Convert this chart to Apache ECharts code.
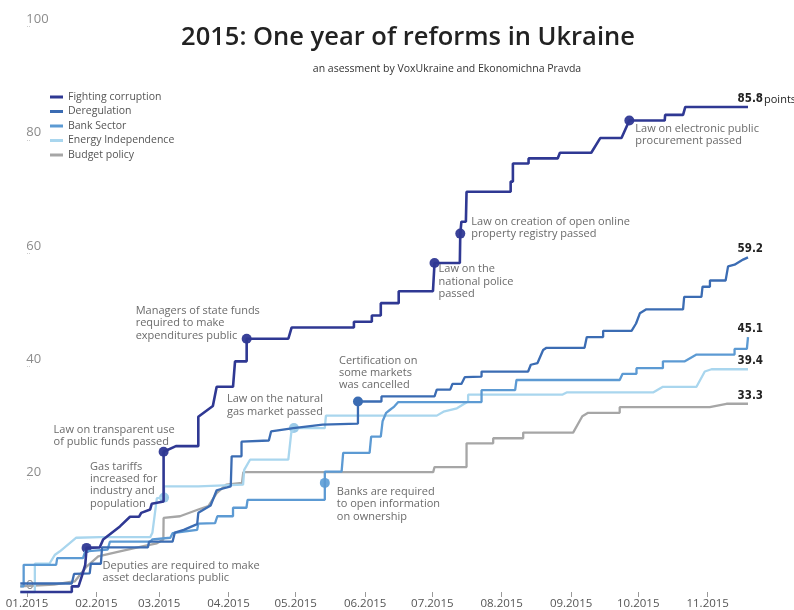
<!DOCTYPE html>
<html>
<head>
<meta charset="utf-8">
<script src="https://cdn.jsdelivr.net/npm/echarts@6/dist/echarts.min.js"></script>
<style>
html, body { margin: 0; padding: 0; background: #fff; }
#main { width: 794px; height: 610px; }
</style>
</head>
<body>
<div id="main"></div>
<script>
// x values are days counted from 01.01.2015
var monthStarts = [0, 31, 59, 90, 120, 151, 181, 212, 243, 273, 304];
var monthLabels = ['01.2015', '02.2015', '03.2015', '04.2015', '05.2015', '06.2015',
    '07.2015', '08.2015', '09.2015', '10.2015', '11.2015'];

var seriesNames = ['Fighting corruption', 'Deregulation', 'Bank Sector', 'Energy Independence', 'Budget policy'];
var seriesColors = ['#2f3893', '#3b6cb3', '#5c9ad3', '#a9d6ee', '#a6a6a6'];
var dotColors = ['#3a4299', '#3b6cb3', '#6aa6da', '#9ccbe8', '#a6a6a6'];

var fightingCorruption = [[-3,0],[20,0],[20,1],[23,1],[24.5,2.8],[26,4.8],[26.6,7.8],[32.5,7.9],[34,9.3],[41.5,11.6],
    [46,13.3],[50,13.3],[51,14],[55,14.6],[55.7,15.6],[61,16],[61,24.8],[66.5,25.8],[76.5,25.8],[76.5,31],[83,32.9],
    [84.7,36.3],[92,36.3],[92.9,40.8],[98.1,40.8],[98.1,44.8],[116.7,44.8],[118.2,46.8],[146,46.8],[146,47.8],[154,47.8],
    [154,48.9],[158,48.9],[158,51.1],[166,51.1],[166,53.2],[181.3,53.2],[182,58.2],[193.3,58.2],[193.5,63.4],[194,65.5],
    [196,65.5],[196.3,70.8],[216,70.8],[216,72.6],[217,72.6],[217,75.8],[224,75.8],[224,76.7],[237,76.7],[238,77.7],
    [252,77.7],[256,80.3],[265.5,80.3],[269,83.4],[284.8,83.4],[285,84.4],[293,84.4],[294,85.8],[322,85.8]];
var deregulation = [[-3,1.5],[20,1.5],[21,3.2],[28,3.3],[28.5,5],[33,5],[33.5,7.9],[54,7.9],[54.5,8.9],[65,8.9],
    [66,10.5],[70,11],[76,12],[76.5,14],[82,15.3],[84.7,18],[91,18.7],[91.4,24],[95.8,24],[95.8,26.6],[108,26.8],
    [109,28.4],[119,29],[132,29.6],[147.8,29.8],[147.8,33.7],[158.3,33.7],[158.3,34.6],[182,34.6],[183,35.8],[189,35.8],
    [190,36.8],[194,36.8],[195.5,38],[203,38.1],[203,39],[223.8,39],[225,40.2],[228,40.5],[230.5,42.8],[232,43.2],
    [249,43.2],[250,45.1],[257.3,45.1],[257.3,46.2],[270,46.2],[272,47.5],[273.7,49.3],[276.6,50],[293,50],[293.5,52.2],
    [301.2,52.2],[301.7,54],[305,54],[305,55.1],[312,55.1],[313.1,57.6],[316,57.9],[319.8,58.8],[322,59.2]];
var bankSector = [[-3,1],[-1.5,1],[-1.5,4.8],[13,4.8],[13.5,6],[25,6],[26,7.2],[36,7.5],[37,8.9],[55,8.9],[56,9.3],
    [64,9.6],[65,10.4],[70,10.7],[76,11],[76.5,12.1],[84,12.2],[85,13.4],[92,13.4],[92,14.9],[98,14.9],[98.5,16.3],
    [133,16.3],[133,19.3],[133,21.3],[140.5,21.3],[141.2,24.6],[153,24.6],[153.7,27.5],[158,27.5],[158.8,30.2],
    [160.4,31.7],[162,32.2],[164,32.8],[165.8,33.6],[203,33.6],[203,35.7],[218,35.7],[218.6,37.5],[264.7,37.5],
    [266,38.6],[272.2,38.6],[272.2,39.6],[284,39.6],[284,40.8],[293.8,40.8],[299,42],[316,42],[316,43],[321.5,43],[322,45.1]];
var energyIndependence = [[-3,0],[3.5,0],[3.5,5],[10,5],[12.5,6.6],[14.7,7.2],[22,9.6],[32.6,9.7],[55,9.7],[56,10.5],
    [58,16.6],[61.2,16.7],[61.2,18.7],[76.5,18.7],[77,19],[96.5,19],[97,21.6],[99.6,23.4],[116.7,23.4],[118,28.1],
    [119.2,29],[133,29],[133.5,31.2],[183,31.2],[186,31.9],[192,32.5],[197,33.7],[197,34.9],[239,34.9],[241,35.3],
    [279.6,35.3],[284,36.3],[299,36.3],[302.7,39],[305.7,39.4],[322,39.4]];
var budgetPolicy = [[-3,1],[12,1.3],[21.4,1.9],[26.6,4.5],[31.8,6.3],[41.5,7.2],[52,8.1],[58,8.6],[60.9,9.3],[61,13.1],
    [68.3,13.4],[76.5,14.6],[81,15.2],[84.7,17.5],[89,19],[96,19.3],[96.6,21.2],[181.4,21.2],[182,22.1],[196.3,22.1],
    [196.3,26.3],[208.2,26.3],[208.2,27.2],[221.6,27.2],[221.6,28.2],[243.9,28.2],[248,31.1],[250.6,31.7],[264.7,31.7],
    [264.7,32.7],[304.9,32.7],[312.4,33.3],[322,33.3]];

// reforms marked on the lines
var annotations = [
    {series: 0, day: 26.6, value: 7.8, text: 'Deputies are required to make\nasset declarations public'},
    {series: 0, day: 61, value: 24.8, text: 'Law on transparent use\nof public funds passed'},
    {series: 3, day: 61.2, value: 16.7, text: 'Gas tariffs\nincreased for\nindustry and\npopulation'},
    {series: 0, day: 98.1, value: 44.8, text: 'Managers of state funds\nrequired to make\nexpenditures public'},
    {series: 3, day: 119.2, value: 29, text: 'Law on the natural\ngas market passed'},
    {series: 1, day: 147.8, value: 33.7, text: 'Certification on\nsome markets\nwas cancelled'},
    {series: 2, day: 133, value: 19.3, text: 'Banks are required\nto open information\non ownership'},
    {series: 0, day: 182, value: 58.2, text: 'Law on the\nnational police\npassed'},
    {series: 0, day: 193.5, value: 63.4, text: 'Law on creation of open online\nproperty registry passed'},
    {series: 0, day: 269, value: 83.4, text: 'Law on electronic public\nprocurement passed'}
];
// where each note's text sits, relative to its dot
var notePlacement = [[21,17], [-105,-23], [-69,-32], [-106,-29], [-62,-30], [-14,-42], [17,8], [9,5], [16,-13], [11,7]];

var dom = document.getElementById('main');
var myChart = echarts.init(dom);

var lineData = [fightingCorruption, deregulation, bankSector, energyIndependence, budgetPolicy];
var series = lineData.map(function (data, i) {
    var marks = [];
    annotations.forEach(function (a, k) {
        if (a.series !== i) return;
        marks.push({
            coord: [a.day, a.value],
            symbol: 'circle',
            symbolSize: 10,
            itemStyle: {color: dotColors[i]},
            label: {
                show: true,
                position: notePlacement[k],
                align: 'left',
                verticalAlign: 'top',
                formatter: a.text,
                color: '#6b6b6b',
                fontSize: 11,
                lineHeight: 12.3,
                fontFamily: 'Open Sans'
            }
        });
    });
    // final score at the end of each line
    var last = data[data.length - 1];
    marks.push({
        coord: last,
        symbol: 'circle',
        symbolSize: 1,
        itemStyle: {color: 'rgba(0,0,0,0)'},
        label: {
            show: true,
            position: [-10, -15],
            align: 'left',
            verticalAlign: 'top',
            formatter: i === 0 ? '{num|' + last[1] + '}{unit|points}' : '{num|' + last[1] + '}',
            rich: {
                num: {fontFamily: '"Liberation Sans Narrow", "DejaVu Sans Condensed", "Liberation Sans", sans-serif', fontWeight: 'bold', fontSize: 11.5, lineHeight: 15, color: '#222'},
                unit: {fontFamily: '"Open Sans"', fontSize: 11, lineHeight: 15, color: '#222', padding: [2, 0, 0, 1]}
            }
        }
    });
    return {
        name: seriesNames[i],
        type: 'line',
        data: data,
        showSymbol: false,
        symbol: 'none',
        clip: false,
        z: 10 - i,
        lineStyle: {color: seriesColors[i], width: i === 0 ? 2.6 : 2.3},
        itemStyle: {color: seriesColors[i]},
        markPoint: {silent: true, animation: false, data: marks}
    };
});

var option = {
    animation: false,
    title: [
        {
            text: '2015: One year of reforms in Ukraine',
            left: 408,
            top: 25,
            textAlign: 'center',
            padding: 0,
            textStyle: {fontFamily: 'Open Sans', fontSize: 25.5, fontWeight: 600, color: '#222'}
        },
        {
            text: 'an asessment by VoxUkraine and Ekonomichna Pravda',
            left: 447,
            top: 64,
            textAlign: 'center',
            padding: 0,
            textStyle: {fontFamily: 'Open Sans', fontSize: 10.5, fontWeight: 'normal', color: '#333'}
        }
    ],
    legend: {
        data: seriesNames,
        orient: 'vertical',
        left: 50,
        top: 90,
        padding: 0,
        icon: 'rect',
        itemWidth: 13,
        itemHeight: 3,
        itemGap: 0.5,
        textStyle: {fontFamily: 'Open Sans', fontSize: 10.5, color: '#555', lineHeight: 14, padding: [0, 0, 0, 0]}
    },
    grid: {left: 20.3, right: 46, top: 26.7, bottom: 17.6, containLabel: false},
    xAxis: {
        type: 'value',
        min: -3,
        max: 322,
        axisLine: {show: false},
        splitLine: {show: false},
        axisTick: {show: true, length: 5, customValues: monthStarts, lineStyle: {color: '#999'}},
        axisLabel: {
            customValues: monthStarts,
            margin: 6,
            fontFamily: 'Open Sans',
            fontSize: 11.5,
            color: '#555',
            formatter: function (v) {
                var k = monthStarts.indexOf(v);
                return k >= 0 ? monthLabels[k] : '';
            }
        }
    },
    yAxis: {
        type: 'value',
        min: 0,
        max: 100,
        interval: 20,
        axisLine: {show: false},
        splitLine: {show: false},
        axisTick: {show: true, inside: true, length: 4, lineStyle: {color: '#ccc', type: 'dotted'}},
        axisLabel: {
            inside: true,
            margin: 6,
            verticalAlign: 'bottom',
            lineHeight: 14,
            fontFamily: 'Open Sans',
            fontSize: 13,
            color: '#8c8c8c'
        }
    },
    series: series
};

myChart.setOption(option);
window.onresize = myChart.resize;
</script>
</body>
</html>
